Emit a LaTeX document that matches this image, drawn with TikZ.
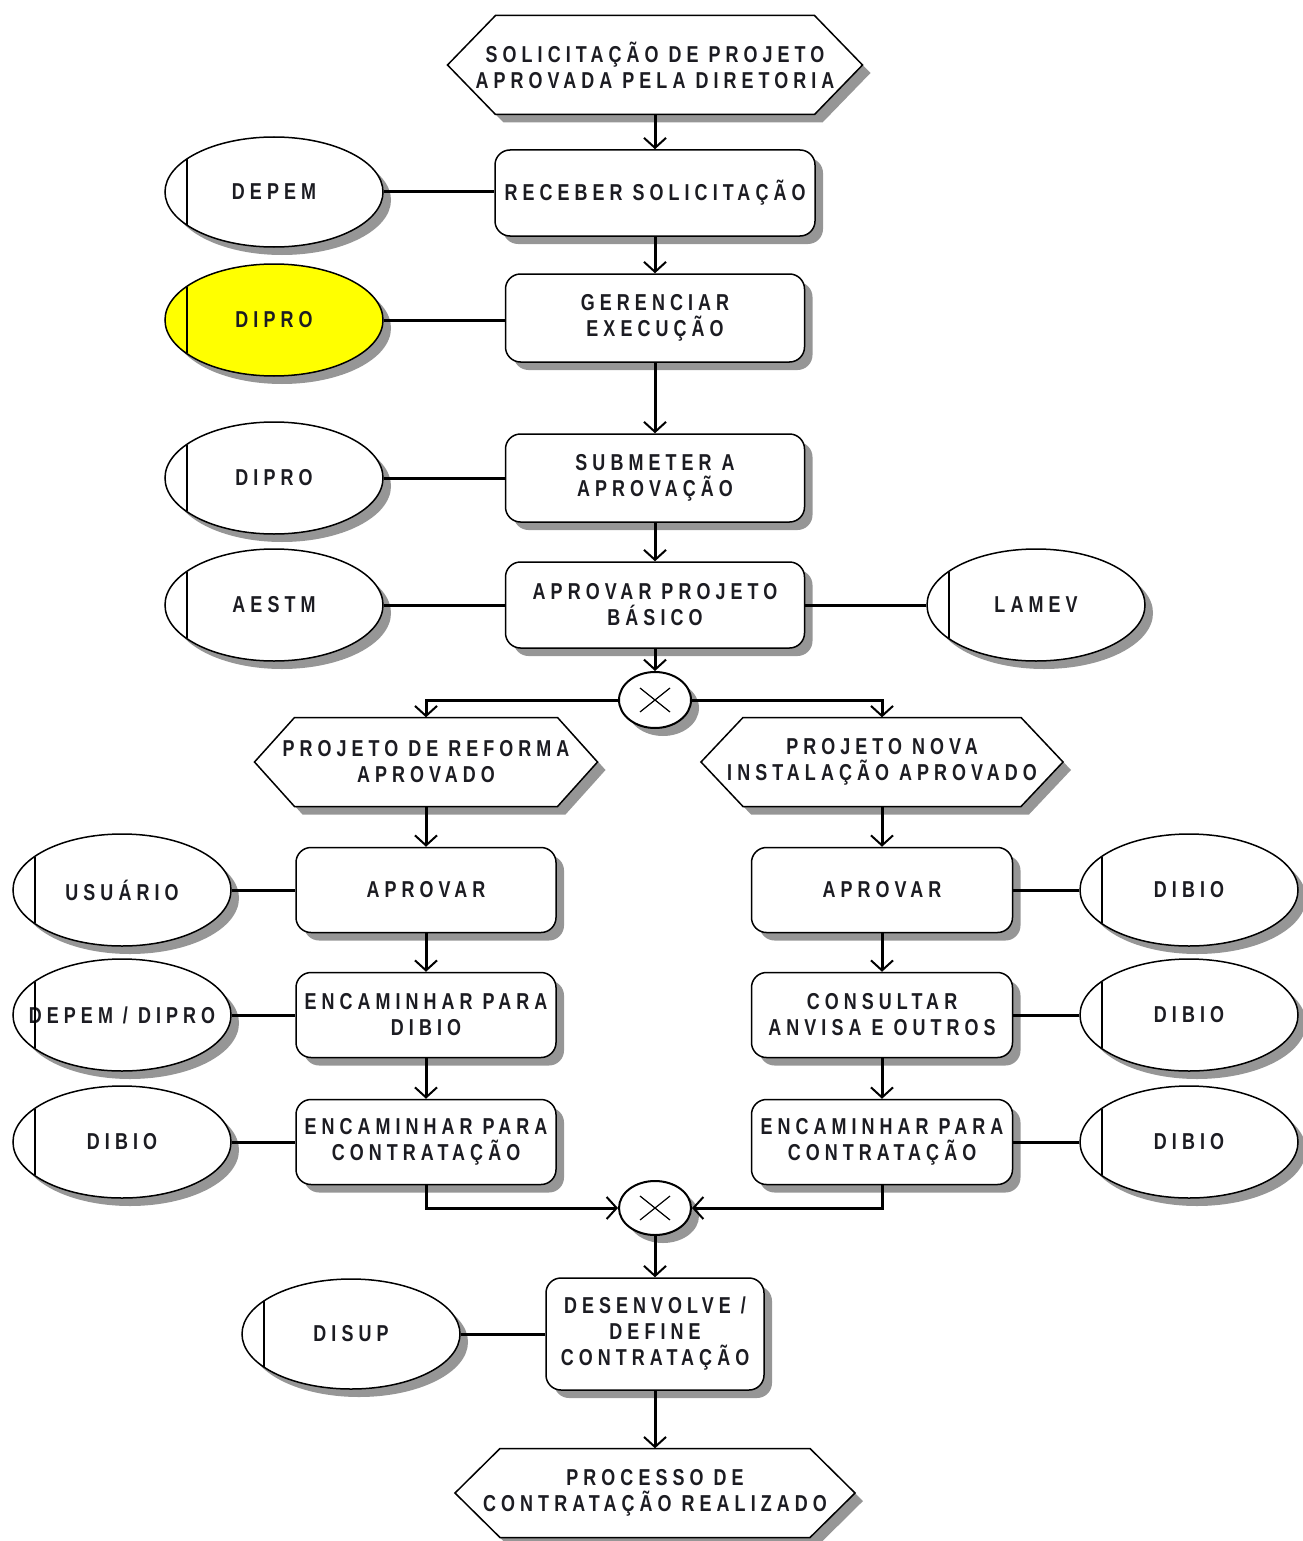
\documentclass[tikz,border=0pt]{standalone}
\usepackage{fontspec}
\newfontfamily\diag{Liberation Sans}[FakeStretch=0.78,LetterSpace=22]
\usetikzlibrary{shapes.geometric,shadows,arrows.meta}
\definecolor{shadowgray}{RGB}{150,150,150}
\definecolor{txt}{RGB}{28,28,34}
\definecolor{yel}{RGB}{255,255,0}
\tikzset{
  lbl/.style={font=\diag\bfseries\fontsize{23}{26}\selectfont, text=txt, align=center},
  shad/.style={drop shadow={shadow xshift=8pt,shadow yshift=-8pt,fill=shadowgray,opacity=1}},
  fbox/.style={lbl, draw, line width=1.5pt, fill=white, rounded corners=15pt, minimum width=299pt, minimum height=88pt, inner sep=0pt, shad},
  org/.style={lbl, ellipse, draw, line width=1.5pt, fill=white, minimum width=218pt, minimum height=112pt, inner xsep=-50pt, inner ysep=0pt, shad},
  xorc/.style={ellipse, draw, line width=2pt, fill=white, minimum width=72pt, minimum height=56pt, inner sep=0pt, shad},
  conn/.style={line width=3pt},
  arr/.style={conn, -{Straight Barb[length=10pt,width=22pt,line width=2pt]}},
}
% name, x, y, half width, half height, inset, text
\newcommand{\hexevt}[7]{%
  \fill[shadowgray] ({#2-#4+8},{#3+8}) -- ({#2-#4+#6+8},{#3-#5+8}) -- ({#2+#4-#6+8},{#3-#5+8}) -- ({#2+#4+8},{#3+8}) -- ({#2+#4-#6+8},{#3+#5+8}) -- ({#2-#4+#6+8},{#3+#5+8}) -- cycle;
  \draw[line width=1.5pt, fill=white] ({#2-#4},{#3}) -- ({#2-#4+#6},{#3-#5}) -- ({#2+#4-#6},{#3-#5}) -- ({#2+#4},{#3}) -- ({#2+#4-#6},{#3+#5}) -- ({#2-#4+#6},{#3+#5}) -- cycle;
  \node[lbl, minimum width={2*#4}, minimum height={2*#5}, inner sep=0pt] (#1) at (#2,#3) {#7};
}
\begin{document}
\begin{tikzpicture}[x=1pt,y=-1pt]
\useasboundingbox (0,0) rectangle (1302,1541);

% events
\hexevt{e1}{655}{65}{207.5}{49.5}{48}{SOLICITAÇÃO DE PROJETO\\APROVADA PELA DIRETORIA}
\hexevt{e2}{426}{762}{171.5}{44.5}{40}{PROJETO DE REFORMA\\APROVADO}
\hexevt{e3}{882}{762}{181}{44.5}{42}{PROJETO NOVA\\INSTALAÇÃO APROVADO}
\hexevt{e4}{655}{1493}{200}{44.5}{45}{PROCESSO DE\\CONTRATAÇÃO REALIZADO}

% functions main column
\node[fbox, minimum width=320pt, minimum height=86pt] (f1) at (655,193) {RECEBER SOLICITAÇÃO};
\node[fbox] (f2) at (655,318) {GERENCIAR\\EXECUÇÃO};
\node[fbox] (f3) at (655,478) {SUBMETER A\\APROVAÇÃO};
\node[fbox, minimum height=86pt] (f4) at (655,605) {APROVAR PROJETO\\BÁSICO};

% left column
\node[fbox, minimum width=260pt, minimum height=85pt] (l1) at (426,890) {APROVAR};
\node[fbox, minimum width=260pt, minimum height=85pt] (l2) at (426,1015) {ENCAMINHAR PARA\\DIBIO};
\node[fbox, minimum width=260pt, minimum height=85pt] (l3) at (426,1142) {ENCAMINHAR PARA\\CONTRATAÇÃO};

% right column
\node[fbox, minimum width=261pt, minimum height=85pt] (r1) at (882,890) {APROVAR};
\node[fbox, minimum width=261pt, minimum height=85pt] (r2) at (882,1015) {CONSULTAR\\ANVISA E OUTROS};
\node[fbox, minimum width=261pt, minimum height=85pt] (r3) at (882,1142) {ENCAMINHAR PARA\\CONTRATAÇÃO};

\node[fbox, minimum width=218pt, minimum height=112pt] (f5) at (655,1334) {DESENVOLVE /\\DEFINE\\CONTRATAÇÃO};

% organisational units
\node[org, minimum height=110pt] (o1) at (274,192) {DEPEM};
\node[org, fill=yel] (o2) at (274,320) {DIPRO};
\node[org] (o3) at (274,478) {DIPRO};
\node[org] (o4) at (274,605) {AESTM};
\node[org] (o5) at (1036,605) {LAMEV};
\node[org] (ol1) at (122,890) {USUÁRIO};
\node[org] (ol2) at (122,1015) {DEPEM / DIPRO};
\node[org] (ol3) at (122,1142) {DIBIO};
\node[org] (or1) at (1189,890) {DIBIO};
\node[org] (or2) at (1189,1015) {DIBIO};
\node[org] (or3) at (1189,1142) {DIBIO};
\node[org, minimum height=110pt] (o6) at (351,1334) {DISUP};

\foreach \n in {o1,o2,o3,o4,o5,ol1,ol2,ol3,or1,or2,or3,o6}
  \draw[line width=1.5pt] ([shift={(-87,-33)}]\n.center) -- ([shift={(-87,33)}]\n.center);

% XOR connectors
\node[xorc] (x1) at (655,700) {};
\node[xorc, minimum height=54pt] (x2) at (655,1208) {};
\foreach \n in {x1,x2}{
  \draw[line width=1.2pt] ([shift={(-15,-12)}]\n.center) -- ([shift={(15,12)}]\n.center);
  \draw[line width=1.2pt] ([shift={(-15,12)}]\n.center) -- ([shift={(15,-12)}]\n.center);
}

% flow
\draw[arr] (e1.south) -- (f1.north);
\draw[arr] (f1.south) -- (f2.north);
\draw[arr] (f2.south) -- (f3.north);
\draw[arr] (f3.south) -- (f4.north);
\draw[arr] (f4.south) -- (x1.north);
\draw[arr] (x1.west) -| (e2.north);
\draw[arr] (x1.east) -| (e3.north);
\draw[arr] (e2.south) -- (l1.north);
\draw[arr] (l1.south) -- (l2.north);
\draw[arr] (l2.south) -- (l3.north);
\draw[arr] (e3.south) -- (r1.north);
\draw[arr] (r1.south) -- (r2.north);
\draw[arr] (r2.south) -- (r3.north);
\draw[arr] (l3.south) |- (x2.west);
\draw[arr] (r3.south) |- (x2.east);
\draw[arr] (x2.south) -- (f5.north);
\draw[arr] (f5.south) -- (e4.north);

% assignments
\draw[conn] (o1.east) -- (o1.east -| f1.west);
\draw[conn] (o2.east) -- (o2.east -| f2.west);
\draw[conn] (o3.east) -- (o3.east -| f3.west);
\draw[conn] (o4.east) -- (o4.east -| f4.west);
\draw[conn] (o5.west) -- (o5.west -| f4.east);
\draw[conn] (ol1.east) -- (ol1.east -| l1.west);
\draw[conn] (ol2.east) -- (ol2.east -| l2.west);
\draw[conn] (ol3.east) -- (ol3.east -| l3.west);
\draw[conn] (or1.west) -- (or1.west -| r1.east);
\draw[conn] (or2.west) -- (or2.west -| r2.east);
\draw[conn] (or3.west) -- (or3.west -| r3.east);
\draw[conn] (o6.east) -- (o6.east -| f5.west);
\end{tikzpicture}
\end{document}
